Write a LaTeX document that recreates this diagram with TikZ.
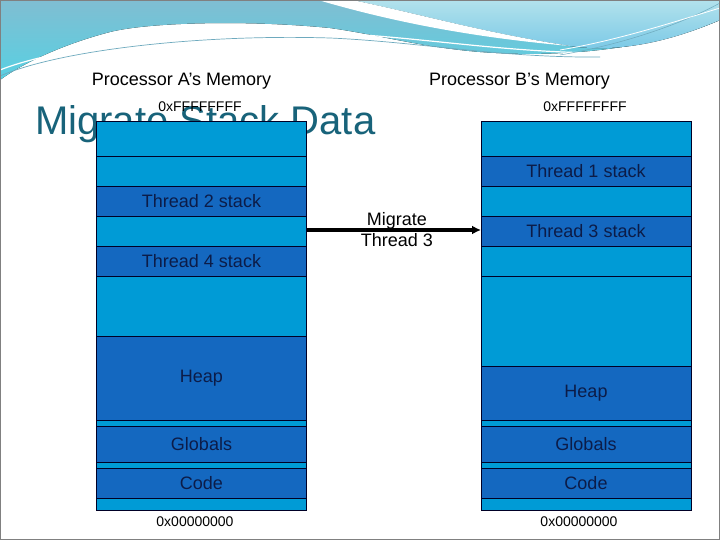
\documentclass[tikz,border=0pt]{standalone}
\usepackage{fontspec}
\setmainfont{Liberation Sans}
\usetikzlibrary{arrows.meta}
\definecolor{lightbox}{RGB}{0,155,214}
\definecolor{darkbox}{RGB}{20,104,192}
\definecolor{boxtext}{RGB}{12,28,72}
\definecolor{titlecol}{RGB}{24,99,122}
\definecolor{swA}{RGB}{128,190,210}
\definecolor{swB}{RGB}{88,208,226}
\definecolor{swC}{RGB}{178,226,236}
\definecolor{swD}{RGB}{120,200,230}
\definecolor{swline}{RGB}{110,170,190}
\tikzset{
  row/.style={draw=black!85!blue, line width=0.8pt, anchor=north west, inner sep=0pt, outer sep=0pt,
    minimum width=210pt, text=boxtext, font=\fontsize{18}{21}\selectfont},
  lt/.style={row, fill=lightbox},
  dk/.style={row, fill=darkbox},
  proclabel/.style={font=\fontsize{18}{21}\selectfont, text=black, inner sep=0pt},
  addr/.style={font=\fontsize{14}{16}\selectfont, text=black, inner sep=0pt},
}
\begin{document}
\begin{tikzpicture}[x=1pt,y=-1pt]
\useasboundingbox (0,0) rectangle (720,540);
\fill[white] (0,0) rectangle (720,540);
% decorative swoosh
\fill[top color=swA, bottom color=swB] (0,0) -- (720,0) -- (720,20)
  .. controls (650,50) and (560,58) .. (480,52)
  .. controls (420,47) and (380,35) .. (330,28)
  .. controls (250,20) and (150,22) .. (110,32)
  .. controls (60,45) and (20,65) .. (0,80) -- cycle;
\fill[top color=swC, bottom color=swD] (352,0) -- (720,0) -- (720,20)
  .. controls (660,46) and (610,52) .. (570,46)
  .. controls (480,32) and (420,14) .. (352,0) -- cycle;
\fill[white] (318,0) -- (352,0) .. controls (420,14) and (480,32) .. (570,46)
  .. controls (480,38) and (400,24) .. (318,0) -- cycle;
\draw[swline, line width=0.7pt] (0,76) .. controls (60,50) and (200,34) .. (330,38)
  .. controls (420,42) and (500,58) .. (600,57);
\draw[white, line width=1.2pt] (0,70) .. controls (60,46) and (200,30) .. (330,33)
  .. controls (420,37) and (500,52) .. (600,53);
\draw[swline, line width=0.5pt] (560,55) .. controls (620,45) and (680,25) .. (720,3);
\draw[white, line width=0.8pt] (560,50) .. controls (620,40) and (680,20) .. (720,8);
% title
\node[anchor=base west, inner sep=0pt, text=titlecol, font=\fontsize{40}{44}\selectfont] (title) at (35,135) {Migrate Stack Data};
% headers
\node[proclabel] (pa) at (181.5,81) {Processor A’s Memory};
\node[proclabel] (pb) at (519.5,81) {Processor B’s Memory};
\node[addr] (atop) at (200,107) {0xFFFFFFFF};
\node[addr] (btop) at (585,107) {0xFFFFFFFF};
% Processor A memory
\node[lt, minimum height=35pt] (a1) at (96.5,121) {};
\node[lt, minimum height=30pt] (a2) at (96.5,156) {};
\node[dk, minimum height=30pt] (a3) at (96.5,186) {Thread 2 stack};
\node[lt, minimum height=30pt] (a4) at (96.5,216) {};
\node[dk, minimum height=30pt] (a5) at (96.5,246) {Thread 4 stack};
\node[lt, minimum height=60pt] (a6) at (96.5,276) {};
\node[dk, minimum height=84pt] (a7) at (96.5,336) {Heap};
\node[lt, minimum height=6pt] (a8) at (96.5,420) {};
\node[dk, minimum height=36pt] (a9) at (96.5,426) {Globals};
\node[lt, minimum height=6pt] (a10) at (96.5,462) {};
\node[dk, minimum height=30pt] (a11) at (96.5,468) {Code};
\node[lt, minimum height=12pt] (a12) at (96.5,498) {};
% Processor B memory
\node[lt, minimum height=35pt] (b1) at (481,121) {};
\node[dk, minimum height=30pt] (b2) at (481,156) {Thread 1 stack};
\node[lt, minimum height=30pt] (b3) at (481,186) {};
\node[dk, minimum height=30pt] (b4) at (481,216) {Thread 3 stack};
\node[lt, minimum height=30pt] (b5) at (481,246) {};
\node[lt, minimum height=90pt] (b6) at (481,276) {};
\node[dk, minimum height=54pt] (b7) at (481,366) {Heap};
\node[lt, minimum height=6pt] (b8) at (481,420) {};
\node[dk, minimum height=36pt] (b9) at (481,426) {Globals};
\node[lt, minimum height=6pt] (b10) at (481,462) {};
\node[dk, minimum height=30pt] (b11) at (481,468) {Code};
\node[lt, minimum height=12pt] (b12) at (481,498) {};
\node[addr] (abot) at (195,522) {0x00000000};
\node[addr] (bbot) at (579,522) {0x00000000};
% migrate
\node[align=center, inner sep=0pt, font=\fontsize{18}{21}\selectfont] (mig) at (397,229.5) {Migrate\\Thread 3};
\draw[line width=3pt, -{Latex[length=9pt,width=9pt]}] ([yshift=1pt]a4.east) -- ([yshift=1pt]b4.west);
% frame
\draw[gray, line width=1pt] (0.5,0.5) rectangle (719.5,539.5);
\end{tikzpicture}
\end{document}
